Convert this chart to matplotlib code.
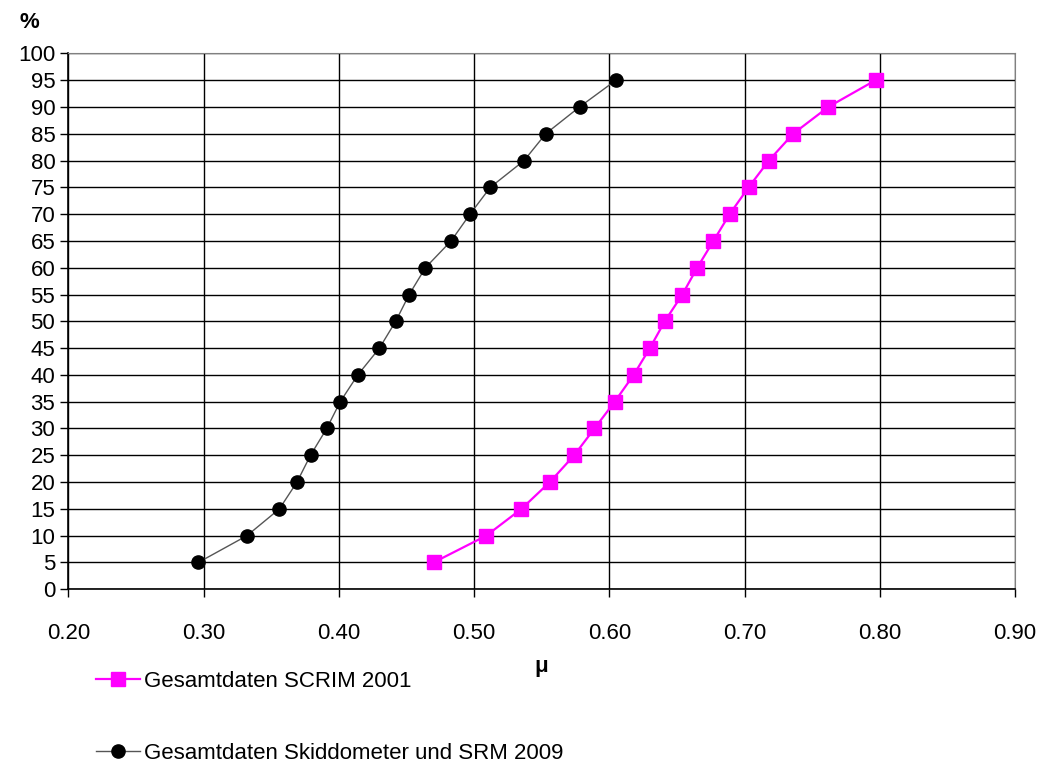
import matplotlib
matplotlib.use("Agg")
import matplotlib.pyplot as plt
import numpy as np

plt.rcParams['font.family'] = ['Liberation Sans', 'DejaVu Sans']

percent = [5, 10, 15, 20, 25, 30, 35, 40, 45, 50, 55, 60, 65, 70, 75, 80, 85, 90, 95]

# SCRIM 2001
mu_scrim = [0.470, 0.509, 0.535, 0.556, 0.574, 0.589, 0.604, 0.618, 0.630, 0.641,
            0.654, 0.665, 0.677, 0.689, 0.703, 0.718, 0.736, 0.762, 0.797]
# Skiddometer und SRM 2009
mu_skid = [0.296, 0.332, 0.356, 0.369, 0.379, 0.391, 0.401, 0.414, 0.430, 0.442,
           0.452, 0.464, 0.483, 0.497, 0.512, 0.537, 0.553, 0.578, 0.605]

label_scrim = "Gesamtdaten SCRIM 2001"
label_skid = "Gesamtdaten Skiddometer und SRM 2009"

xticks = np.arange(0.2, 0.901, 0.1)
yticks = np.arange(0, 101, 5)

fig = plt.figure(figsize=(10.47, 7.65), dpi=100)
ax = fig.add_axes([0.0654, 0.2297, 0.9040, 0.7006])

l1, = ax.plot(mu_scrim, percent, color='#ff00ff', lw=1.6, marker='s', markersize=9.5,
              markeredgecolor='#ff00ff', markerfacecolor='#ff00ff', zorder=4)
l2, = ax.plot(mu_skid, percent, color='#555555', lw=1.0, marker='o', markersize=9.5,
              markeredgecolor='black', markerfacecolor='black', zorder=4)

ax.set_xlim(0.2, 0.9)
ax.set_ylim(0, 100)
ax.set_xticks(xticks)
ax.set_xticklabels(["%.2f" % v for v in xticks])
ax.set_yticks(yticks)
ax.tick_params(axis='both', labelsize=16, length=6, width=1, direction='out', color='black')
ax.tick_params(axis='x', pad=18)
ax.grid(True, color='black', lw=1.0)
ax.set_axisbelow(True)

for side in ['top', 'right']:
    ax.spines[side].set_color('#808080')
for side in ['left', 'bottom']:
    ax.spines[side].set_color('black')
    ax.spines[side].set_linewidth(1.2)

ax.set_xlabel("μ", fontsize=16, fontweight='bold', labelpad=9)
fig.text(0.019, 0.97, "%", fontsize=16, fontweight='bold', ha='left', va='center')

fig.legend([l1, l2], [label_scrim, label_skid], loc='lower left',
           bbox_to_anchor=(0.079, -0.016), frameon=False, fontsize=16,
           handlelength=2.0, handletextpad=0.15, labelspacing=2.3, borderaxespad=0.2)

fig.savefig("out.png", dpi=100)
